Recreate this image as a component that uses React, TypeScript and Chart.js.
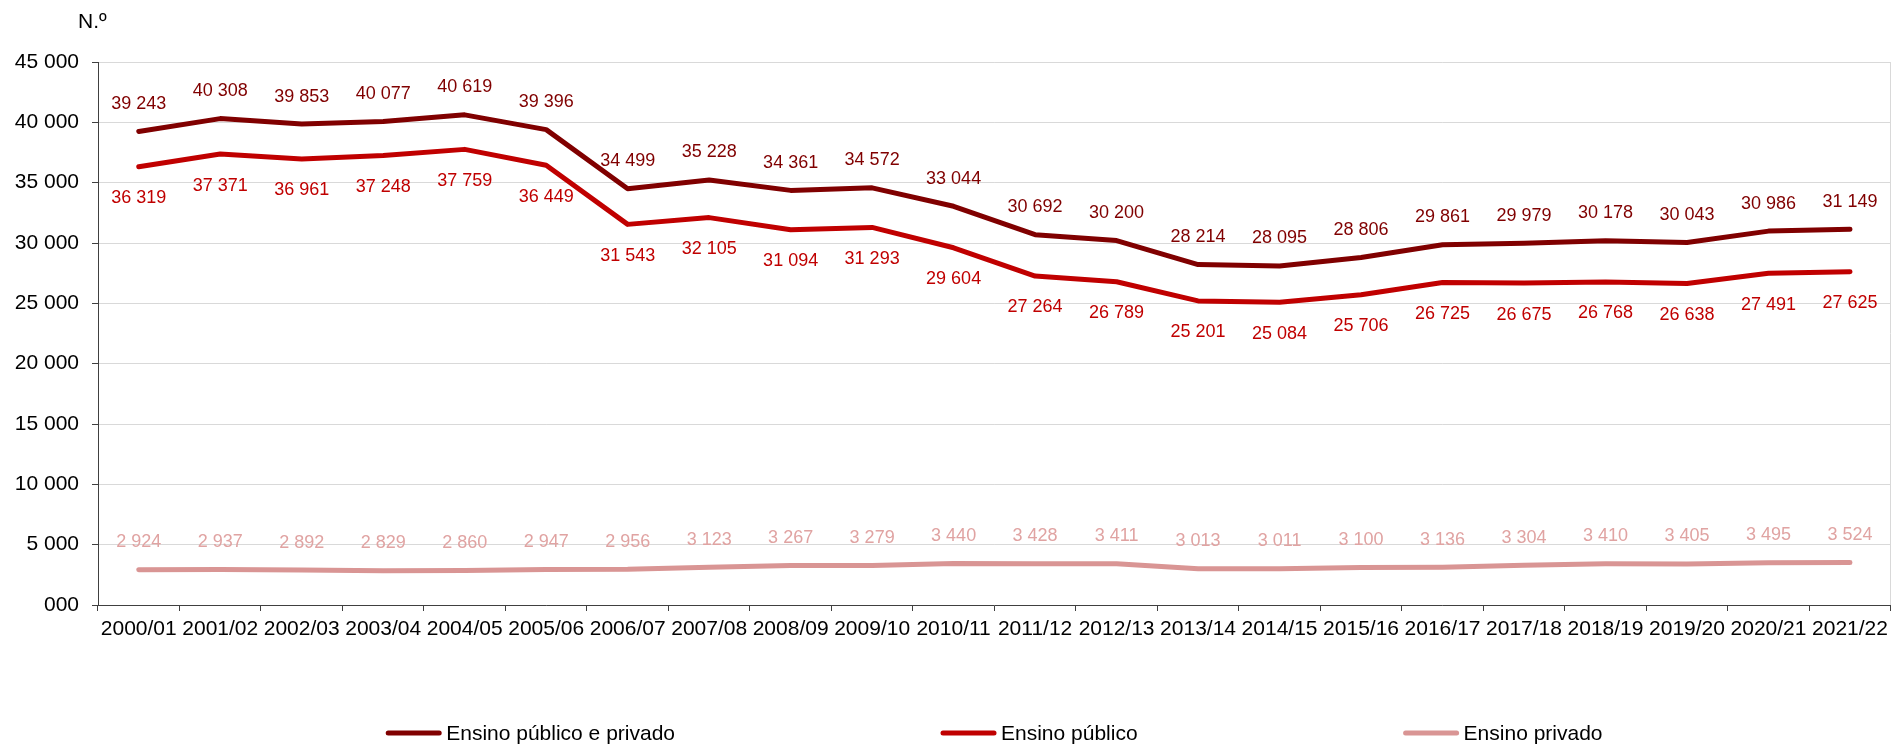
import React, { useEffect, useRef } from 'react';
import { Chart, registerables } from 'chart.js';

Chart.register(...registerables);

const categories = [
  '2000/01', '2001/02', '2002/03', '2003/04', '2004/05', '2005/06', '2006/07', '2007/08',
  '2008/09', '2009/10', '2010/11', '2011/12', '2012/13', '2013/14', '2014/15', '2015/16',
  '2016/17', '2017/18', '2018/19', '2019/20', '2020/21', '2021/22',
];

const totalValues = [
  39243, 40308, 39853, 40077, 40619, 39396, 34499, 35228, 34361, 34572, 33044,
  30692, 30200, 28214, 28095, 28806, 29861, 29979, 30178, 30043, 30986, 31149,
];

const publicValues = [
  36319, 37371, 36961, 37248, 37759, 36449, 31543, 32105, 31094, 31293, 29604,
  27264, 26789, 25201, 25084, 25706, 26725, 26675, 26768, 26638, 27491, 27625,
];

const privateValues = [
  2924, 2937, 2892, 2829, 2860, 2947, 2956, 3123, 3267, 3279, 3440,
  3428, 3411, 3013, 3011, 3100, 3136, 3304, 3410, 3405, 3495, 3524,
];

const seriesLabels = ['Ensino público e privado', 'Ensino público', 'Ensino privado'];
const unitLabel = 'N.º';
const yMin = 0;
const yMax = 45000;
const yStep = 5000;

const FONT = '"Liberation Sans", Arial, sans-serif';

const fmt = (n: number) => String(Math.round(n)).replace(/\B(?=(\d{3})+(?!\d))/g, ' ');

const dataLabelsPlugin = {
  id: 'dataLabelsCustom',
  afterDatasetsDraw(chart: any) {
    const ctx = chart.ctx;
    ctx.save();
    ctx.font = `18px ${FONT}`;
    ctx.textAlign = 'center';
    ctx.textBaseline = 'middle';
    chart.data.datasets.forEach((ds: any, i: number) => {
      const meta = chart.getDatasetMeta(i);
      ctx.fillStyle = ds.labelColor;
      meta.data.forEach((pt: any, j: number) => {
        ctx.fillText(fmt(ds.data[j]), pt.x, pt.y + ds.labelOffset);
      });
    });
    ctx.restore();
  },
};

const framePlugin = {
  id: 'frameCustom',
  beforeDatasetsDraw(chart: any) {
    const { ctx, chartArea } = chart;
    ctx.save();
    ctx.strokeStyle = '#d9d9d9';
    ctx.lineWidth = 1;
    const x = Math.round(chartArea.right) - 0.5;
    ctx.beginPath();
    ctx.moveTo(x, chartArea.top);
    ctx.lineTo(x, chartArea.bottom);
    ctx.stroke();
    ctx.restore();
  },
  afterDraw(chart: any) {
    const { ctx, chartArea } = chart;
    ctx.save();
    // unit label
    ctx.font = `21px ${FONT}`;
    ctx.fillStyle = '#000000';
    ctx.textAlign = 'left';
    ctx.textBaseline = 'middle';
    ctx.fillText(unitLabel, chartArea.left - 20, 22);

    // legend
    const lineLen = 55;
    const lineGap = 5;
    const itemGap = 266;
    const items = chart.data.datasets.map((ds: any) => ({
      text: ds.label,
      color: ds.borderColor,
      w: lineLen + lineGap + ctx.measureText(ds.label).width,
    }));
    const total = items.reduce((s: number, it: any) => s + it.w, 0) + itemGap * (items.length - 1);
    let x = (chartArea.left + chartArea.right) / 2 - total / 2;
    const y = chart.height - 11;
    items.forEach((it: any) => {
      ctx.strokeStyle = it.color;
      ctx.lineWidth = 5;
      ctx.lineCap = 'round';
      ctx.beginPath();
      ctx.moveTo(x + 2, y - 1);
      ctx.lineTo(x + lineLen - 2, y - 1);
      ctx.stroke();
      ctx.fillStyle = '#000000';
      ctx.fillText(it.text, x + lineLen + lineGap, y);
      x += it.w + itemGap;
    });
    ctx.restore();
  },
};

export default function App() {
  const canvasRef = useRef<HTMLCanvasElement | null>(null);

  useEffect(() => {
    if (!canvasRef.current) return;
    const lineStyle = {
      borderWidth: 5,
      pointRadius: 0,
      pointHoverRadius: 0,
      tension: 0,
      borderCapStyle: 'round',
      borderJoinStyle: 'round',
      fill: false,
    };
    const chart = new Chart(canvasRef.current, {
      type: 'line',
      data: {
        labels: categories,
        datasets: [
          {
            label: seriesLabels[0],
            data: totalValues,
            borderColor: '#800000',
            backgroundColor: '#800000',
            labelColor: '#800000',
            labelOffset: -27.5,
            ...lineStyle,
          } as any,
          {
            label: seriesLabels[1],
            data: publicValues,
            borderColor: '#c00000',
            backgroundColor: '#c00000',
            labelColor: '#c00000',
            labelOffset: 31.5,
            ...lineStyle,
          } as any,
          {
            label: seriesLabels[2],
            data: privateValues,
            borderColor: '#d99594',
            backgroundColor: '#d99594',
            labelColor: '#e0a3a2',
            labelOffset: -27.5,
            ...lineStyle,
          } as any,
        ],
      },
      options: {
        animation: false,
        responsive: false,
        maintainAspectRatio: false,
        layout: { padding: { left: 0, top: 62, right: 3, bottom: 90 } },
        plugins: {
          legend: { display: false },
          tooltip: { enabled: false },
          title: { display: false },
        },
        scales: {
          x: {
            type: 'category',
            offset: true,
            grid: {
              offset: true,
              drawOnChartArea: false,
              drawTicks: true,
              tickLength: 6,
              tickColor: '#404040',
            },
            border: { display: true, color: '#404040', width: 1 },
            ticks: {
              color: '#000000',
              font: { family: FONT, size: 21 },
              padding: 6,
              maxRotation: 0,
              minRotation: 0,
              autoSkip: false,
            },
            afterFit: (scale: any) => {
              scale.height = 50;
            },
          },
          y: {
            min: yMin,
            max: yMax,
            grid: {
              color: '#d9d9d9',
              lineWidth: 1,
              drawTicks: true,
              tickLength: 6,
              tickColor: '#404040',
            },
            border: { display: true, color: '#404040', width: 1 },
            ticks: {
              stepSize: yStep,
              color: '#000000',
              font: { family: FONT, size: 21 },
              padding: 13,
              callback: (v: any) => (Number(v) === 0 ? '000' : fmt(Number(v))),
            },
            afterFit: (scale: any) => {
              scale.width = 98;
            },
          },
        },
      } as any,
      plugins: [framePlugin, dataLabelsPlugin],
    });
    return () => chart.destroy();
  }, []);

  return (
    <div style={{ position: 'fixed', left: 0, top: 0, width: 1894, height: 745, background: '#ffffff' }}>
      <canvas ref={canvasRef} width={1894} height={745} style={{ display: 'block' }} />
    </div>
  );
}
